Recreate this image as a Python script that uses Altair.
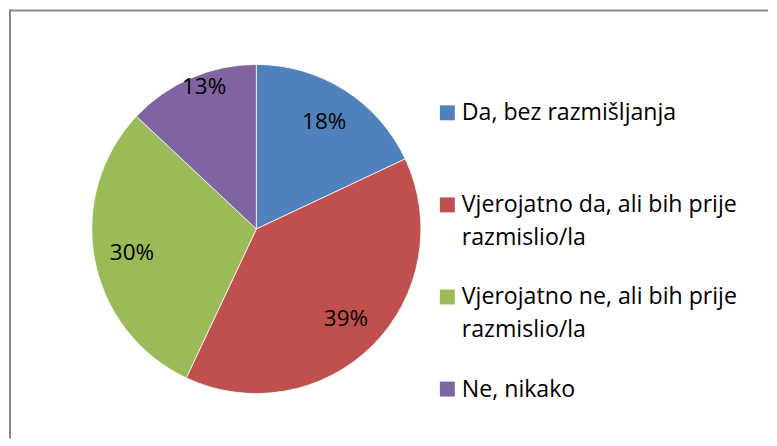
import altair as alt
import pandas as pd

categories = ["Da, bez razmišljanja",
              "Vjerojatno da, ali bih prije razmislio/la",
              "Vjerojatno ne, ali bih prije razmislio/la",
              "Ne, nikako"]
legend_text = ["Da, bez razmišljanja",
               "Vjerojatno da, ali bih prije\nrazmislio/la",
               "Vjerojatno ne, ali bih prije\nrazmislio/la",
               "Ne, nikako"]
values = [18, 39, 30, 13]
colors = ["#4F81BD", "#C0504D", "#9BBB59", "#8064A2"]

df = pd.DataFrame({
    "cat": categories,
    "value": values,
    "idx": list(range(len(categories))),
    "label": [f"{v}%" for v in values],
    "legend": legend_text,
})

color = alt.Color("cat:N", scale=alt.Scale(domain=categories, range=colors), legend=None)

base = alt.Chart(df)

arcs = base.mark_arc(outerRadius=165, stroke="white", strokeWidth=0.75).encode(
    theta=alt.Theta("value:Q", stack=True),
    color=color,
    order=alt.Order("idx:Q"),
)

# labels of the larger slices sit inside; the smallest slice's label sits nearer the rim
labels_in = base.transform_calculate(
    t="datum.value >= 15 ? datum.label : ''"
).mark_text(radius=127, font="Open Sans", fontSize=22.5, color="#000000").encode(
    theta=alt.Theta("value:Q", stack=True),
    text="t:N",
    order=alt.Order("idx:Q"),
)

labels_out = base.transform_calculate(
    t="datum.value < 15 ? datum.label : ''"
).mark_text(radius=152, dx=8, dy=-3, font="Open Sans", fontSize=22.5, color="#000000").encode(
    theta=alt.Theta("value:Q", stack=True),
    text="t:N",
    order=alt.Order("idx:Q"),
)

ypos = alt.Y("cat:N", sort=categories, axis=None,
             scale=alt.Scale(range=[103.5, 380.5], padding=0))

leg_sym = base.mark_point(shape="square", filled=True, size=225, opacity=1).encode(
    x=alt.value(439.5),
    y=ypos,
    color=color,
)

leg_txt = base.mark_text(font="Open Sans", fontSize=23.2, align="left", baseline="alphabetic",
                         lineBreak="\n", lineHeight=32.5, dy=7.5, color="#000000").encode(
    x=alt.value(454),
    y=ypos,
    text="legend:N",
)

one = alt.Chart(pd.DataFrame({"a": [0]}))
top_rule = one.mark_rule(color="#878787", strokeWidth=2).encode(
    x=alt.value(0), x2=alt.value(761), y=alt.value(1))
left_rule = one.mark_rule(color="#878787", strokeWidth=2).encode(
    x=alt.value(1), y=alt.value(0), y2=alt.value(430))

chart = alt.layer(arcs, labels_in, labels_out, leg_sym, leg_txt, top_rule, left_rule).properties(
    width=496, height=440, padding=0, background="white"
).configure_view(stroke=None)

chart.save("out.html", embed_options={"renderer": "svg", "actions": False})
